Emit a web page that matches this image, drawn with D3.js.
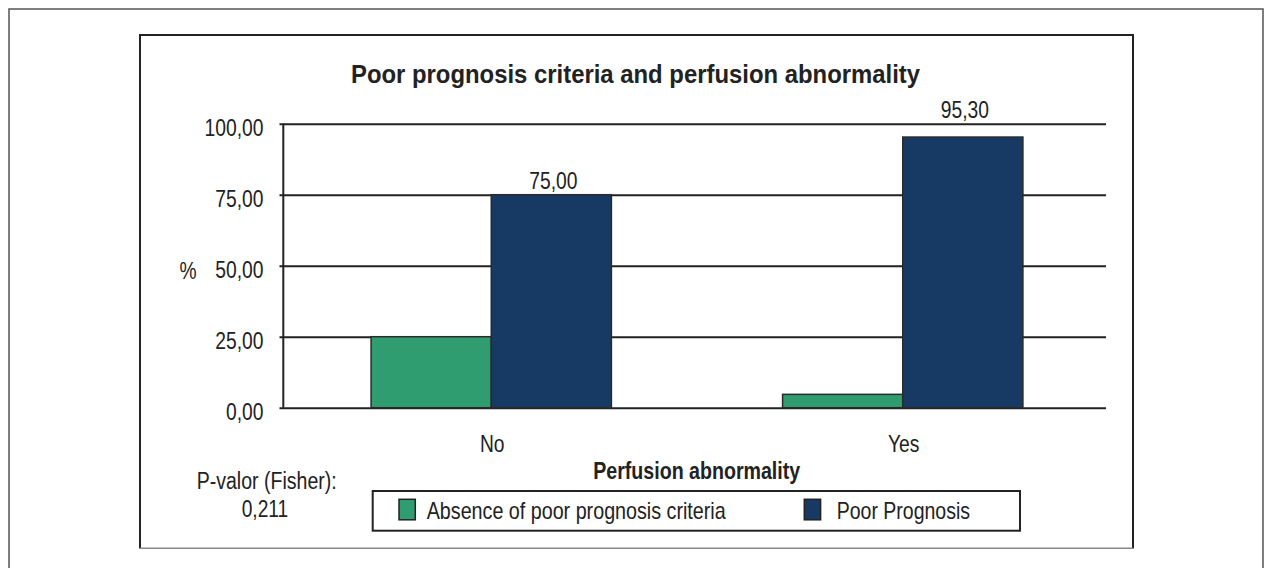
<!DOCTYPE html>
<html>
<head>
<meta charset="utf-8">
<script src="https://cdn.jsdelivr.net/npm/d3@7"></script>
<style>
  html, body { margin: 0; padding: 0; background: #fff; }
  svg { display: block; }
  text { font-family: "Liberation Sans Narrow", "Arial Narrow", "Liberation Sans", Arial, sans-serif; fill: #222; }
</style>
</head>
<body>
<svg id="chart" width="1267" height="568"></svg>
<script>
// ---- data ----
const categories = ["No", "Yes"];
const seriesNames = ["Absence of poor prognosis criteria", "Poor Prognosis"];
const absenceValues = [25.0, 4.7];
const poorValues = [75.0, 95.3];
const yTicks = [0, 25, 50, 75, 100];
const yTickLabels = ["0,00", "25,00", "50,00", "75,00", "100,00"];
const valueLabels = ["75,00", "95,30"];
const seriesColors = ["#2f9d70", "#173a65"];
const titleText = "Poor prognosis criteria and perfusion abnormality";
const xTitleText = "Perfusion abnormality";
const yTitleText = "%";
const pLines = ["P-valor (Fisher):", "0,211"];

const table = categories.map((c, i) => ({
  category: c,
  values: [absenceValues[i], poorValues[i]],
  label: valueLabels[i]
}));

const svg = d3.select("#chart");
const ink = "#222";
const narrow = 0.82;

// frames
svg.append("rect").attr("x", 9).attr("y", 9).attr("width", 1254).attr("height", 620)
  .attr("fill", "none").attr("stroke", "#555").attr("stroke-width", 1.5);
svg.append("path").attr("d", "M140,548.5 L140,35 L1133,35 L1133,548.5")
  .attr("fill", "none").attr("stroke", ink).attr("stroke-width", 2);
svg.append("line").attr("x1", 140).attr("x2", 1133).attr("y1", 548.3).attr("y2", 548.3)
  .attr("stroke", "#888").attr("stroke-width", 1.5);

// title
svg.append("text").attr("x", 635.5).attr("y", 83).attr("text-anchor", "middle")
  .attr("font-size", 26).attr("font-weight", "bold")
  .attr("textLength", 569).attr("lengthAdjust", "spacingAndGlyphs")
  .text(titleText);

// scales
const y = d3.scaleLinear().domain([0, 100]).range([407.7, 123.7]);
const x0 = d3.scaleBand().domain(categories).range([285.5, 1108.5])
  .paddingInner(0.416).paddingOuter(0.208);
const x1 = d3.scaleBand().domain(seriesNames).range([0, x0.bandwidth()]).padding(0);
const color = d3.scaleOrdinal().domain(seriesNames).range(seriesColors);

const axisX = 283.3;
const gridEnd = 1106;
const tickStart = 279.5;

// gridlines + tick labels via axis
const yAxis = d3.axisLeft(y)
  .tickValues(yTicks)
  .tickFormat((d, i) => yTickLabels[i])
  .tickSize(-(gridEnd - tickStart))
  .tickPadding(16);
const gAxis = svg.append("g").attr("transform", `translate(${tickStart},0)`).call(yAxis);
gAxis.select(".domain").remove();
gAxis.selectAll(".tick line").attr("stroke", ink).attr("stroke-width", 2);
gAxis.selectAll(".tick text")
  .attr("font-size", 23.5)
  .attr("fill", ink)
  .attr("dy", null)
  .attr("y", 11.5)
  .style("font-family", '"Liberation Sans Narrow", "Arial Narrow", "Liberation Sans", Arial, sans-serif');

// y axis line
svg.append("line").attr("x1", axisX).attr("x2", axisX).attr("y1", y(100)).attr("y2", y(0))
  .attr("stroke", ink).attr("stroke-width", 2);

// y title
svg.append("text").attr("x", 188).attr("y", 279).attr("text-anchor", "middle")
  .attr("font-size", 23.5).text(yTitleText);

// bars
const groups = svg.append("g").selectAll("g").data(table).join("g")
  .attr("transform", d => `translate(${x0(d.category)},0)`);
groups.selectAll("rect")
  .data(d => d.values.map((v, j) => ({ key: seriesNames[j], value: v })))
  .join("rect")
  .attr("x", d => x1(d.key))
  .attr("y", d => y(d.value))
  .attr("width", x1.bandwidth())
  .attr("height", d => y(0) - y(d.value))
  .attr("fill", d => color(d.key))
  .attr("stroke", "#2a2a2a")
  .attr("stroke-width", 1.5);

// value labels on Poor Prognosis bars (lifted above the top gridline when they would cross it)
function labelY(v) {
  let ly = y(v) - 6;
  if (ly > y(100) && ly - 17 < y(100)) ly = y(100) - 6;
  return ly;
}
groups.append("text")
  .attr("x", x1(seriesNames[1]) + x1.bandwidth() / 2 + 2)
  .attr("y", d => labelY(d.values[1]))
  .attr("text-anchor", "middle")
  .attr("font-size", 23.5)
  .text(d => d.label);

// category labels
svg.append("g").selectAll("text").data(categories).join("text")
  .attr("x", d => x0(d) + x0.bandwidth() / 2 + 1)
  .attr("y", y(0) + 44)
  .attr("text-anchor", "middle")
  .attr("font-size", 23.5)
  .text(d => d);

// x title
svg.append("text").attr("x", 696.7).attr("y", 479).attr("text-anchor", "middle")
  .attr("font-size", 24).attr("font-weight", "bold")
  .attr("textLength", 207).attr("lengthAdjust", "spacingAndGlyphs")
  .text(xTitleText);

// p-value
svg.append("text").attr("x", 266.7).attr("y", 489.3).attr("text-anchor", "middle")
  .attr("font-size", 23.5).attr("textLength", 140).attr("lengthAdjust", "spacingAndGlyphs")
  .text(pLines[0]);
svg.append("text").attr("x", 265).attr("y", 516.7).attr("text-anchor", "middle")
  .attr("font-size", 23.5).attr("textLength", 46.6).attr("lengthAdjust", "spacingAndGlyphs")
  .text(pLines[1]);

// legend
svg.append("rect").attr("x", 372.7).attr("y", 491).attr("width", 1020 - 372.7).attr("height", 39.7)
  .attr("fill", "#fff").attr("stroke", ink).attr("stroke-width", 2);
const legendItems = [
  { name: seriesNames[0], sx: 399, tx: 426.7, tl: 299 },
  { name: seriesNames[1], sx: 804.3, tx: 836.7, tl: 133.3 }
];
const lg = svg.append("g").selectAll("g").data(legendItems).join("g");
lg.append("rect").attr("x", d => d.sx).attr("y", 499.3).attr("width", 16.3).attr("height", 20.5)
  .attr("fill", d => color(d.name)).attr("stroke", ink).attr("stroke-width", 1.5);
lg.append("text").attr("x", d => d.tx).attr("y", 519.3).attr("font-size", 24)
  .attr("textLength", d => d.tl).attr("lengthAdjust", "spacingAndGlyphs")
  .text(d => d.name);

// emulate a narrow face for texts without an explicit length
svg.selectAll("text").each(function () {
  if (!this.hasAttribute("textLength")) {
    const w = this.getComputedTextLength();
    d3.select(this).attr("textLength", (w * narrow).toFixed(1))
      .attr("lengthAdjust", "spacingAndGlyphs");
  }
});
</script>
</body>
</html>
